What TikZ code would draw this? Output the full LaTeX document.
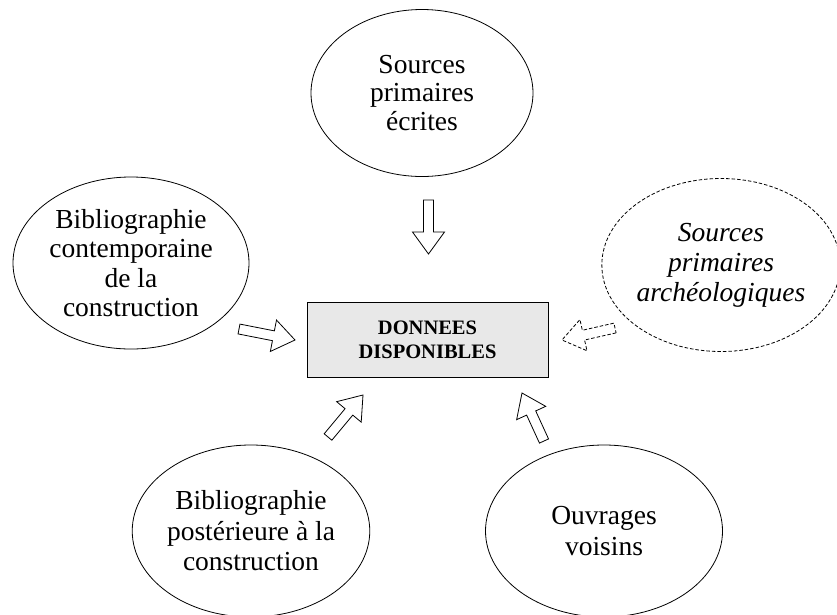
\documentclass[tikz,border=0pt]{standalone}
\usepackage{fontspec}
\setmainfont{Liberation Serif}
\usetikzlibrary{shapes.geometric,calc}
\tikzset{
  src/.style={ellipse, draw, line width=0.8pt, inner sep=0pt, align=center,
    font=\fontsize{27.5}{28.5}\selectfont},
  hub/.style={rectangle, draw, line width=0.8pt, fill=black!9, align=center,
    font=\fontsize{20.5}{24}\selectfont\bfseries},
  barrowline/.style={draw, fill=white, line width=0.8pt, line join=miter},
  dashline/.style={dash pattern=on 3.5pt off 2pt}
}
\newcommand\mybarrow[4][]{%
  \coordinate (#4) at ($(#3)!22pt!(#2)$);
  \draw[barrowline,#1] ($(#2)!5pt!90:(#3)$) -- ($(#4)!5pt!90:(#3)$) -- ($(#4)!16pt!90:(#3)$) -- (#3)
    -- ($(#4)!16pt!-90:(#3)$) -- ($(#4)!5pt!-90:(#3)$) -- ($(#2)!5pt!-90:(#3)$) -- cycle;}
\begin{document}
\begin{tikzpicture}[x=1pt,y=-1pt]
\useasboundingbox (0,0) rectangle (837,614);
% nodes
\node[src, minimum width=222pt, minimum height=167pt] (top) at (422,93) {Sources\\primaires\\écrites};
\node[src, minimum width=236pt, minimum height=172pt, font=\fontsize{27.5}{29.5}\selectfont] (left) at (131,263) {Bibliographie\\contemporaine\\de la\\construction};
\node[src, dashline, minimum width=228pt, minimum height=173pt, font=\fontsize{27.5}{30}\selectfont\itshape] (right) at (721,265) {Sources\\primaires\\archéologiques};
\node[src, minimum width=236pt, minimum height=172pt, font=\fontsize{27.5}{30.5}\selectfont] (bl) at (251,531) {Bibliographie\\postérieure à la\\construction};
\node[src, minimum width=237pt, minimum height=172pt, font=\fontsize{27.5}{30.5}\selectfont] (br) at (604,531) {Ouvrages\\voisins};
\node[hub, minimum width=241pt, minimum height=75pt] (hub) at (427.5,339.5) {DONNEES\\DISPONIBLES};
% arrow end points
\coordinate (t1) at (428.5,200); \coordinate (p1) at (428.5,254);
\coordinate (t2) at (239,329);   \coordinate (p2) at (295,340);
\coordinate (t3) at (615,328);   \coordinate (p3) at (562,340);
\coordinate (t4) at (328,437);   \coordinate (p4) at (363,395);
\coordinate (t5) at (544,441);   \coordinate (p5) at (522,393);
% block arrows
\mybarrow{t1}{p1}{b1}
\mybarrow{t2}{p2}{b2}
\mybarrow[dashline]{t3}{p3}{b3}
\mybarrow{t4}{p4}{b4}
\mybarrow{t5}{p5}{b5}
\end{tikzpicture}
\end{document}
